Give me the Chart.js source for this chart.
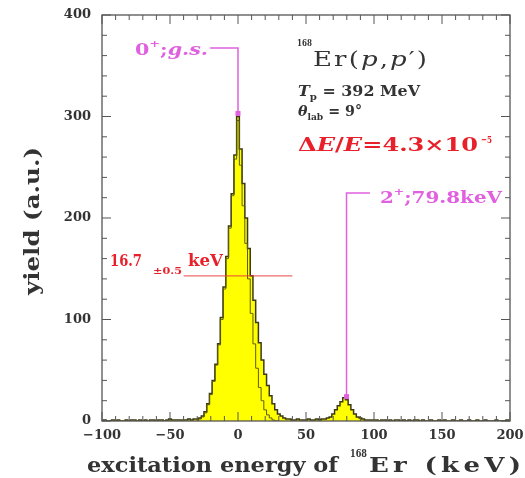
<!DOCTYPE html>
<html><head><meta charset="utf-8">
<script src="https://cdn.jsdelivr.net/npm/chart.js@4/dist/chart.umd.min.js"></script>
<style>html,body{margin:0;padding:0;background:#fff}</style>
</head><body>
<canvas id="c" width="525" height="478"></canvas>
<script>
// ---- data ----
const energies = [
-100,-98,-96,-94,-92,-90,-88,-86,-84,-82,
-80,-78,-76,-74,-72,-70,-68,-66,-64,-62,
-60,-58,-56,-54,-52,-50,-48,-46,-44,-42,
-40,-38,-36,-34,-32,-30,-28,-26,-24,-22,
-20,-18,-16,-14,-12,-10,-8,-6,-4,-2,
0,2,4,6,8,10,12,14,16,18,
20,22,24,26,28,30,32,34,36,38,
40,42,44,46,48,50,52,54,56,58,
60,62,64,66,68,70,72,74,76,78,
80,82,84,86,88,90,92,94,96,98,
100,102,104,106,108,110,112,114,116,118,
120,122,124,126,128,130,132,134,136,138,
140,142,144,146,148,150,152,154,156,158,
160,162,164,166,168,170,172,174,176,178,
180,182,184,186,188,190,192,194,196,198,
200];
const yields = [
0,1,0,0,1,0,1,0,0,1,
0,1,1,0,1,0,1,0,1,1,
0,1,1,0,1,2,1,1,1,1,
1,1,2,1,2,2,3,5,9,17,
27,40,56,76,102,132,162,192,224,262,
300,268,234,200,170,143,119,97,77,60,
46,35,25,17,11,7,5,3,2,2,
1,1,2,1,1,1,2,1,1,2,
1,2,2,3,4,7,11,15,19,23,
21,16,11,7,4,3,2,1,1,1,
1,1,0,1,1,0,1,0,1,1,
0,1,0,1,0,1,1,0,1,0,
0,1,0,0,1,0,1,0,0,1,
0,0,1,0,0,1,0,0,1,0,
0,1,0,0,0,1,0,0,0,1,
0];
const compEnergies = [-30,-28,-26,-24,-22,-20,-18,-16,-14,-12,-10,-8,-6,-4,-2,0,2,4,6,8,10,12,14,16,18,20,22,24,26,28,30];
const compYields   = [0,2,4,8,16,26,39,55,75,100,130,160,190,222,258,296,252,212,175,140,106,76,52,33,20,11,6,3,1,0,0];

const xTicks = [-100,-50,0,50,100,150,200];
const yTicks = [0,100,200,300,400];
const xMinorStep = 10, yMinorStep = 20;

// state markers: energy (keV), peak yield, label-line yield, label-line end energy
const gsMarker = {e:0, peak:303, top:367.5, lineEnd:-20.5};
const exMarker = {e:79.8, peak:24, top:224.6, lineEnd:97};
// FWHM indicator: level and extent (keV)
const fwhmLine = {y:143, from:-40, to:40};

const MAG = '#e060e0', RED = '#e8202a', DARK = '#333333';
const SERIF = '"DejaVu Serif"';

function drawRuns(ctx, x, y, runs, target, maxStretch){
  maxStretch = maxStretch || 1.3;
  let total = 0, n = 0;
  runs.forEach(r=>{ ctx.font = r.f; for(const ch of r.t){ total += ctx.measureText(ch).width; n++; } });
  const sx = target ? Math.min(Math.max(target/total, 0.5), maxStretch) : 1;
  const sp = (target && n>1) ? (target - total*sx)/(n-1) : 0;
  ctx.save(); ctx.translate(x,y); ctx.scale(sx,1);
  let cx = 0;
  runs.forEach(r=>{
    ctx.font = r.f; ctx.fillStyle = r.c;
    for(const ch of r.t){ ctx.fillText(ch, cx, (r.dy||0)); cx += ctx.measureText(ch).width + sp/sx; }
  });
  ctx.restore();
}

const decor = {
  id:'decor',
  beforeDraw(chart){
    const c = chart.ctx; c.save(); c.fillStyle='#fff'; c.fillRect(0,0,chart.width,chart.height); c.restore();
  },
  afterDatasetsDraw(chart){
    const ctx = chart.ctx, xs = chart.scales.x, ys = chart.scales.y, a = chart.chartArea;
    ctx.save();
    // frame
    ctx.strokeStyle = '#555'; ctx.lineWidth = 1.3;
    ctx.strokeRect(a.left, a.top, a.right-a.left, a.bottom-a.top);
    // inward ticks on all four sides
    ctx.lineWidth = 1;
    for(let v = xs.min; v <= xs.max+0.001; v += xMinorStep){
      const px = xs.getPixelForValue(v);
      const L = xTicks.includes(v) ? 9 : 5;
      ctx.beginPath(); ctx.moveTo(px,a.bottom); ctx.lineTo(px,a.bottom-L);
      ctx.moveTo(px,a.top); ctx.lineTo(px,a.top+L); ctx.stroke();
    }
    for(let v = ys.min; v <= ys.max+0.001; v += yMinorStep){
      const py = ys.getPixelForValue(v);
      const L = yTicks.includes(v) ? 9 : 5;
      ctx.beginPath(); ctx.moveTo(a.left,py); ctx.lineTo(a.left+L,py);
      ctx.moveTo(a.right,py); ctx.lineTo(a.right-L,py); ctx.stroke();
    }
    // state markers
    ctx.strokeStyle = MAG; ctx.fillStyle = MAG; ctx.lineWidth = 1.5;
    [gsMarker, exMarker].forEach(m=>{
      const px = xs.getPixelForValue(m.e), pPeak = ys.getPixelForValue(m.peak), pTop = ys.getPixelForValue(m.top);
      const pEnd = xs.getPixelForValue(m.lineEnd);
      ctx.beginPath(); ctx.moveTo(px,pPeak); ctx.lineTo(px,pTop); ctx.lineTo(pEnd,pTop); ctx.stroke();
      ctx.fillRect(px-2.5,pPeak-2.5,5,5);
    });
    // FWHM line
    ctx.strokeStyle = 'rgba(232,60,60,0.75)'; ctx.lineWidth = 1.3;
    const fy = ys.getPixelForValue(fwhmLine.y);
    ctx.beginPath(); ctx.moveTo(xs.getPixelForValue(fwhmLine.from),fy); ctx.lineTo(xs.getPixelForValue(fwhmLine.to),fy); ctx.stroke();

    ctx.textBaseline = 'alphabetic';
    // labels
    drawRuns(ctx,135,55,[{t:'0',f:'bold 16px '+SERIF,c:MAG},{t:'+',f:'bold 10px '+SERIF,c:MAG,dy:-8},{t:';',f:'bold 16px '+SERIF,c:MAG},{t:'g.s.',f:'italic bold 16px '+SERIF,c:MAG}],73);
    drawRuns(ctx,380,203,[{t:'2',f:'bold 16px '+SERIF,c:MAG},{t:'+',f:'bold 10px '+SERIF,c:MAG,dy:-8},{t:';79.8keV',f:'bold 16px '+SERIF,c:MAG}],122);
    drawRuns(ctx,297,46,[{t:'168',f:'bold 10px '+SERIF,c:DARK}],15);
    drawRuns(ctx,313,66,[{t:'Er(',f:'20px '+SERIF,c:DARK},{t:'p',f:'italic 20px '+SERIF,c:DARK},{t:',',f:'20px '+SERIF,c:DARK},{t:'p',f:'italic 20px '+SERIF,c:DARK},{t:'′)',f:'20px '+SERIF,c:DARK}],114);
    drawRuns(ctx,298,96,[{t:'T',f:'italic bold 14px '+SERIF,c:DARK},{t:'p',f:'bold 9px '+SERIF,c:DARK,dy:4},{t:' = 392 MeV',f:'bold 14px '+SERIF,c:DARK}],122);
    drawRuns(ctx,298,116,[{t:'θ',f:'italic bold 14px '+SERIF,c:DARK},{t:'lab',f:'bold 9px '+SERIF,c:DARK,dy:4},{t:' = 9°',f:'bold 14px '+SERIF,c:DARK}],64);
    drawRuns(ctx,298,151,[{t:'Δ',f:'bold 19px '+SERIF,c:RED},{t:'E',f:'italic bold 19px '+SERIF,c:RED},{t:'/',f:'bold 19px '+SERIF,c:RED},{t:'E',f:'italic bold 19px '+SERIF,c:RED},{t:'=4.3×10',f:'bold 19px '+SERIF,c:RED}],180);
    drawRuns(ctx,481,143,[{t:'−5',f:'bold 10px '+SERIF,c:RED}],11);
    drawRuns(ctx,110,266,[{t:'16.7',f:'bold 16px '+SERIF,c:RED}],32);
    drawRuns(ctx,153,274,[{t:'±0.5',f:'bold 10px '+SERIF,c:RED}],29);
    drawRuns(ctx,188,266,[{t:'keV',f:'bold 17px '+SERIF,c:RED}],35);
    // axis titles
    drawRuns(ctx,87,472,[{t:'excitation energy of',f:'bold 20px '+SERIF,c:DARK}],251);
    drawRuns(ctx,350,457,[{t:'168',f:'bold 11px '+SERIF,c:DARK}],17);
    drawRuns(ctx,369,472,[{t:'Er (keV)',f:'bold 20px '+SERIF,c:DARK}],152);
    ctx.translate(39,295); ctx.rotate(-Math.PI/2);
    drawRuns(ctx,0,0,[{t:'yield (a.u.)',f:'bold 20px '+SERIF,c:DARK}],148);
    ctx.restore();
  }
};

new Chart(document.getElementById('c'), {
  type:'line',
  data:{datasets:[
    {data: energies.map((e,i)=>({x:e,y:yields[i]})), stepped:'middle', fill:'origin',
     backgroundColor:'#ffff00', borderColor:'#3b3a12', borderWidth:1.5, pointRadius:0, order:2},
    {data: compEnergies.map((e,i)=>({x:e,y:compYields[i]})), stepped:'middle', fill:false,
     borderColor:'#5c5a14', borderWidth:1, pointRadius:0, order:1}
  ]},
  options:{
    responsive:false, animation:false, devicePixelRatio:1,
    layout:{padding:{top:15,right:15,left:0,bottom:0}},
    plugins:{legend:{display:false}, tooltip:{enabled:false}},
    scales:{
      x:{type:'linear', min:-100, max:200, grid:{display:false, drawTicks:false}, border:{display:false},
         afterBuildTicks: s => { s.ticks = xTicks.map(v=>({value:v})); },
         afterFit: s => { s.height = 57; s.paddingLeft = 0; s.paddingRight = 0; },
         ticks:{font:{family:'DejaVu Serif',size:13,weight:'bold'}, color:'#333', padding:7, maxRotation:0, autoSkip:false,
                callback: v => String(v).replace('-','−')}},
      y:{type:'linear', min:0, max:400, grid:{display:false, drawTicks:false}, border:{display:false},
         afterBuildTicks: s => { s.ticks = yTicks.map(v=>({value:v})); },
         afterFit: s => { s.width = 102; s.paddingTop = 0; s.paddingBottom = 0; },
         ticks:{font:{family:'DejaVu Serif',size:13,weight:'bold'}, color:'#333', padding:11}}
    }
  },
  plugins:[decor]
});
</script>
</body></html>
